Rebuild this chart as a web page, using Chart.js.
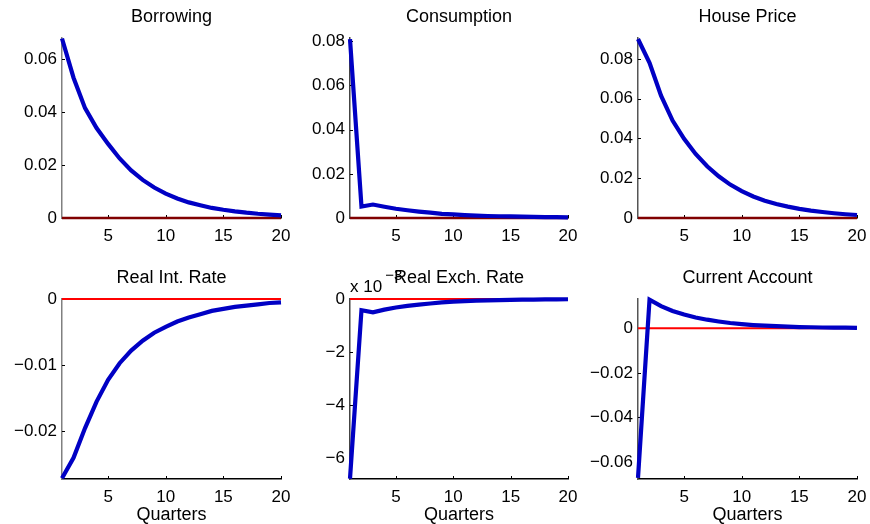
<!DOCTYPE html>
<html>
<head>
<meta charset="utf-8">
<script src="https://cdn.jsdelivr.net/npm/chart.js@4.4.0/dist/chart.umd.min.js"></script>
<style>
  html, body { margin: 0; padding: 0; background: #fff; }
  #wrap { position: relative; width: 870px; height: 524px; overflow: hidden; }
  .panel { position: absolute; }
</style>
</head>
<body>
<div id="wrap"></div>
<script>
// impulse responses, quarters 1..20
const quarters = [1, 2, 3, 4, 5, 6, 7, 8, 9, 10, 11, 12, 13, 14, 15, 16, 17, 18, 19, 20];
const zeroLine = [0, 0, 0, 0, 0, 0, 0, 0, 0, 0, 0, 0, 0, 0, 0, 0, 0, 0, 0, 0];

const borrowing = [0.0678, 0.0530, 0.0415, 0.0340, 0.0280, 0.0225, 0.0180, 0.0144, 0.0115, 0.0092,
                   0.0074, 0.0059, 0.0048, 0.0038, 0.0031, 0.0025, 0.0020, 0.0016, 0.0013, 0.0010];
const consumption = [0.0810, 0.0052, 0.0061, 0.0051, 0.0042, 0.0035, 0.0029, 0.0024, 0.0019, 0.0016,
                     0.0013, 0.0011, 0.0009, 0.0008, 0.0007, 0.0006, 0.0005, 0.0004, 0.0004, 0.0003];
const housePrice = [0.0900, 0.0780, 0.0615, 0.0490, 0.0398, 0.0322, 0.0260, 0.0210, 0.0168, 0.0135,
                    0.0108, 0.0087, 0.0070, 0.0057, 0.0046, 0.0037, 0.0030, 0.0024, 0.0019, 0.0015];
const realIntRate = [-0.0271, -0.0240, -0.0195, -0.0155, -0.0122, -0.0097, -0.0078, -0.0063, -0.0051, -0.0042,
                     -0.0034, -0.0028, -0.0023, -0.0018, -0.0015, -0.0012, -0.0010, -0.0008, -0.0006, -0.0005];
const realExchRate = [-0.00678, -0.00042, -0.00050, -0.00040, -0.00032, -0.00026, -0.00021, -0.00017, -0.00013, -0.00010,
                      -0.00008, -0.000065, -0.00005, -0.00004, -0.00003, -0.000025, -0.00002, -0.000015, -0.000012, -0.00001];
const currentAccount = [-0.0672, 0.0129, 0.0100, 0.0078, 0.0062, 0.0049, 0.0039, 0.0031, 0.0024, 0.0019,
                        0.0015, 0.0012, 0.0010, 0.0008, 0.0006, 0.0005, 0.0004, 0.0003, 0.0003, 0.0002];

// tick values and axis limits
const xTicks = [5, 10, 15, 20];
const borrowingTicks = [0, 0.02, 0.04, 0.06];
const consumptionTicks = [0, 0.02, 0.04, 0.06, 0.08];
const housePriceTicks = [0, 0.02, 0.04, 0.06, 0.08];
const realIntTicks = [-0.02, -0.01, 0];
const realExchTicks = [-0.006, -0.004, -0.002, 0];
const currentAccountTicks = [-0.06, -0.04, -0.02, 0];

const borrowingRange = [0, 0.068];
const consumptionRange = [0, 0.0815];
const housePriceRange = [0, 0.0905];
const realIntRange = [-0.0272, 0];
const realExchRange = [-0.00679, 0];
const currentAccountRange = [-0.0677, 0.0132];

const FONT = 'Liberation Sans, Arial, Helvetica, sans-serif';
Chart.defaults.font.family = FONT;
Chart.defaults.color = '#000';

const panels = [
  { title: 'Borrowing', data: borrowing, ticks: borrowingTicks, range: borrowingRange, col: 0, row: 0 },
  { title: 'Consumption', data: consumption, ticks: consumptionTicks, range: consumptionRange, col: 1, row: 0 },
  { title: 'House Price', data: housePrice, ticks: housePriceTicks, range: housePriceRange, col: 2, row: 0 },
  { title: 'Real Int. Rate', data: realIntRate, ticks: realIntTicks, range: realIntRange, col: 0, row: 1 },
  { title: 'Real Exch. Rate', data: realExchRate, ticks: realExchTicks, range: realExchRange, col: 1, row: 1, scale: 1000, exponent: '\u22123' },
  { title: 'Current Account', data: currentAccount, ticks: currentAccountTicks, range: currentAccountRange, col: 2, row: 1 }
];

// layout of the subplot grid
const colLeft = [0, 290, 580];
const colWidth = 290;
const yAxisWidth = [62, 60, 58];
const rightPad = [9, 12, 13];
const rowTop = [0, 261];
const rowHeight = [261, 263];
const xAxisHeight = [43, 45];
const plotTop = 38;
const leftAxisColor = ['#808080', '#444444', '#555555'];

function fmtTick(v, scale) {
  if (Math.abs(v) < 1e-12) return '0';
  const s = scale ? String(Math.round(v * scale)) : v.toFixed(2);
  return s.replace('-', '\u2212');
}

// MATLAB style inward tick marks
const innerTicks = {
  id: 'innerTicks',
  beforeDatasetsDraw(chart) {
    const { ctx, chartArea, scales } = chart;
    ctx.save();
    ctx.strokeStyle = '#000';
    ctx.lineWidth = 1;
    ctx.beginPath();
    scales.x.ticks.forEach(t => {
      const px = Math.round(scales.x.getPixelForValue(t.value)) + 0.5;
      ctx.moveTo(px, chartArea.bottom);
      ctx.lineTo(px, chartArea.bottom - 3);
    });
    scales.y.ticks.forEach(t => {
      const py = Math.round(scales.y.getPixelForValue(t.value)) + 0.5;
      ctx.moveTo(chartArea.left, py);
      ctx.lineTo(chartArea.left + 3, py);
    });
    ctx.stroke();
    ctx.restore();
  }
};

// title centred over the plot box, plus the "x 10^-3" multiplier
const axesTitle = {
  id: 'axesTitle',
  afterDraw(chart, args, opts) {
    const { ctx, chartArea } = chart;
    ctx.save();
    ctx.fillStyle = '#000';
    ctx.textBaseline = 'alphabetic';
    if (opts.exponent) {
      ctx.textAlign = 'left';
      ctx.font = '17px ' + FONT;
      const base = 'x 10';
      ctx.fillText(base, chartArea.left, chartArea.top - 7);
      const w = ctx.measureText(base).width;
      ctx.font = '15px ' + FONT;
      ctx.fillText(opts.exponent, chartArea.left + w + 3, chartArea.top - 19);
    }
    ctx.textAlign = 'center';
    ctx.font = '18px ' + FONT;
    ctx.fillText(opts.text, (chartArea.left + chartArea.right) / 2, chartArea.top - 16);
    ctx.restore();
  }
};

const wrap = document.getElementById('wrap');

panels.forEach(p => {
  const div = document.createElement('div');
  div.className = 'panel';
  div.style.left = colLeft[p.col] + 'px';
  div.style.top = rowTop[p.row] + 'px';
  const canvas = document.createElement('canvas');
  canvas.width = colWidth;
  canvas.height = rowHeight[p.row];
  div.appendChild(canvas);
  wrap.appendChild(div);

  const topRow = p.row === 0;

  new Chart(canvas.getContext('2d'), {
    type: 'line',
    data: {
      datasets: [
        {
          data: p.data.map((v, i) => ({ x: quarters[i], y: v })),
          borderColor: '#0000c4',
          borderWidth: 4.2,
          pointRadius: 0,
          tension: 0,
          clip: 3,
          order: 0
        },
        {
          data: zeroLine.map((v, i) => ({ x: quarters[i], y: v })),
          borderColor: topRow ? '#800000' : '#ff0000',
          borderWidth: topRow ? 2.7 : 2,
          pointRadius: 0,
          tension: 0,
          clip: 3,
          order: 1
        }
      ]
    },
    options: {
      responsive: false,
      animation: false,
      devicePixelRatio: 1,
      layout: { padding: { left: 0, right: rightPad[p.col], top: plotTop, bottom: 0 } },
      plugins: {
        legend: { display: false },
        tooltip: { enabled: false },
        title: { display: false },
        axesTitle: { text: p.title, exponent: p.exponent || '' }
      },
      scales: {
        x: {
          type: 'linear',
          min: 1,
          max: 20,
          grid: { display: false, drawTicks: false },
          border: { display: true, color: '#000', width: 1.5 },
          ticks: { padding: 8, font: { size: 17 }, color: '#000', callback: v => String(v) },
          title: {
            display: !topRow,
            text: 'Quarters',
            color: '#000',
            font: { size: 18, lineHeight: 1 },
            padding: 0
          },
          afterBuildTicks: axis => { axis.ticks = xTicks.map(v => ({ value: v })); },
          afterFit: axis => {
            axis.height = xAxisHeight[p.row];
            axis.paddingLeft = 0;
            axis.paddingRight = 0;
          }
        },
        y: {
          type: 'linear',
          min: p.range[0],
          max: p.range[1],
          grid: { display: false, drawTicks: false },
          border: { display: true, color: leftAxisColor[p.col], width: 1.5 },
          ticks: { padding: 5, font: { size: 17 }, color: '#000', callback: v => fmtTick(v, p.scale) },
          afterBuildTicks: axis => { axis.ticks = p.ticks.map(v => ({ value: v })); },
          afterFit: axis => {
            axis.width = yAxisWidth[p.col];
            axis.paddingTop = 0;
            axis.paddingBottom = 0;
          }
        }
      }
    },
    plugins: [innerTicks, axesTitle]
  });
});
</script>
</body>
</html>
